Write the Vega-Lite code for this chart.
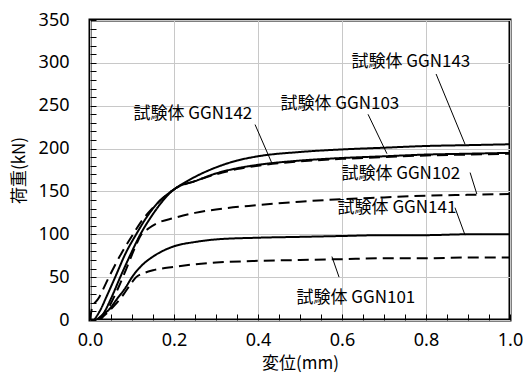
{
  "$schema": "https://vega.github.io/schema/vega-lite/v6.json",
  "width": 420,
  "height": 300,
  "autosize": {"type": "none"},
  "padding": {"left": 90, "top": 20, "right": 13, "bottom": 57},
  "background": "white",
  "config": {
    "view": {"stroke": "black", "strokeWidth": 3},
    "axis": {"labelColor": "black", "titleColor": "black", "tickColor": "black", "labelFlush": false}
  },
  "datasets": {
    "curves": [
      {"s": "GGN143", "x": 0.01, "y": 0}, {"s": "GGN143", "x": 0.025, "y": 12}, {"s": "GGN143", "x": 0.04, "y": 28}, {"s": "GGN143", "x": 0.06, "y": 50}, {"s": "GGN143", "x": 0.085, "y": 78}, {"s": "GGN143", "x": 0.11, "y": 100}, {"s": "GGN143", "x": 0.135, "y": 120}, {"s": "GGN143", "x": 0.16, "y": 136}, {"s": "GGN143", "x": 0.185, "y": 147}, {"s": "GGN143", "x": 0.205, "y": 154}, {"s": "GGN143", "x": 0.25, "y": 167}, {"s": "GGN143", "x": 0.3, "y": 178}, {"s": "GGN143", "x": 0.35, "y": 186}, {"s": "GGN143", "x": 0.4, "y": 191}, {"s": "GGN143", "x": 0.5, "y": 196}, {"s": "GGN143", "x": 0.6, "y": 199}, {"s": "GGN143", "x": 0.7, "y": 201}, {"s": "GGN143", "x": 0.8, "y": 203}, {"s": "GGN143", "x": 0.9, "y": 204}, {"s": "GGN143", "x": 1.0, "y": 205},
      {"s": "GGN142", "x": 0.02, "y": 0}, {"s": "GGN142", "x": 0.035, "y": 10}, {"s": "GGN142", "x": 0.05, "y": 25}, {"s": "GGN142", "x": 0.072, "y": 50}, {"s": "GGN142", "x": 0.097, "y": 77}, {"s": "GGN142", "x": 0.12, "y": 100}, {"s": "GGN142", "x": 0.145, "y": 120}, {"s": "GGN142", "x": 0.17, "y": 137}, {"s": "GGN142", "x": 0.19, "y": 148}, {"s": "GGN142", "x": 0.205, "y": 154}, {"s": "GGN142", "x": 0.25, "y": 162}, {"s": "GGN142", "x": 0.3, "y": 171}, {"s": "GGN142", "x": 0.35, "y": 177}, {"s": "GGN142", "x": 0.4, "y": 181}, {"s": "GGN142", "x": 0.5, "y": 186}, {"s": "GGN142", "x": 0.6, "y": 189}, {"s": "GGN142", "x": 0.7, "y": 191}, {"s": "GGN142", "x": 0.8, "y": 193}, {"s": "GGN142", "x": 0.9, "y": 194}, {"s": "GGN142", "x": 1.0, "y": 195},
      {"s": "GGN103", "x": 0.0, "y": 0}, {"s": "GGN103", "x": 0.005, "y": 14}, {"s": "GGN103", "x": 0.02, "y": 25}, {"s": "GGN103", "x": 0.045, "y": 50}, {"s": "GGN103", "x": 0.075, "y": 78}, {"s": "GGN103", "x": 0.1, "y": 98}, {"s": "GGN103", "x": 0.125, "y": 117}, {"s": "GGN103", "x": 0.15, "y": 131}, {"s": "GGN103", "x": 0.18, "y": 145}, {"s": "GGN103", "x": 0.205, "y": 154}, {"s": "GGN103", "x": 0.25, "y": 162}, {"s": "GGN103", "x": 0.3, "y": 170}, {"s": "GGN103", "x": 0.35, "y": 176}, {"s": "GGN103", "x": 0.4, "y": 180}, {"s": "GGN103", "x": 0.5, "y": 185}, {"s": "GGN103", "x": 0.6, "y": 188}, {"s": "GGN103", "x": 0.7, "y": 190}, {"s": "GGN103", "x": 0.8, "y": 192}, {"s": "GGN103", "x": 0.9, "y": 193}, {"s": "GGN103", "x": 1.0, "y": 194},
      {"s": "GGN102", "x": 0.025, "y": 0}, {"s": "GGN102", "x": 0.045, "y": 15}, {"s": "GGN102", "x": 0.065, "y": 35}, {"s": "GGN102", "x": 0.085, "y": 58}, {"s": "GGN102", "x": 0.105, "y": 82}, {"s": "GGN102", "x": 0.12, "y": 98}, {"s": "GGN102", "x": 0.14, "y": 107}, {"s": "GGN102", "x": 0.16, "y": 113}, {"s": "GGN102", "x": 0.2, "y": 119}, {"s": "GGN102", "x": 0.25, "y": 125}, {"s": "GGN102", "x": 0.3, "y": 129}, {"s": "GGN102", "x": 0.4, "y": 134}, {"s": "GGN102", "x": 0.5, "y": 138}, {"s": "GGN102", "x": 0.6, "y": 141}, {"s": "GGN102", "x": 0.7, "y": 143}, {"s": "GGN102", "x": 0.8, "y": 145}, {"s": "GGN102", "x": 0.9, "y": 146}, {"s": "GGN102", "x": 1.0, "y": 147},
      {"s": "GGN141", "x": 0.015, "y": 0}, {"s": "GGN141", "x": 0.03, "y": 6}, {"s": "GGN141", "x": 0.045, "y": 12}, {"s": "GGN141", "x": 0.065, "y": 25}, {"s": "GGN141", "x": 0.085, "y": 38}, {"s": "GGN141", "x": 0.1, "y": 50}, {"s": "GGN141", "x": 0.12, "y": 62}, {"s": "GGN141", "x": 0.15, "y": 74}, {"s": "GGN141", "x": 0.175, "y": 81}, {"s": "GGN141", "x": 0.2, "y": 86}, {"s": "GGN141", "x": 0.25, "y": 91}, {"s": "GGN141", "x": 0.3, "y": 94}, {"s": "GGN141", "x": 0.4, "y": 96}, {"s": "GGN141", "x": 0.5, "y": 97}, {"s": "GGN141", "x": 0.6, "y": 98}, {"s": "GGN141", "x": 0.7, "y": 99}, {"s": "GGN141", "x": 0.8, "y": 99}, {"s": "GGN141", "x": 0.9, "y": 100}, {"s": "GGN141", "x": 1.0, "y": 100},
      {"s": "GGN101", "x": 0.02, "y": 0}, {"s": "GGN101", "x": 0.04, "y": 8}, {"s": "GGN101", "x": 0.06, "y": 18}, {"s": "GGN101", "x": 0.08, "y": 30}, {"s": "GGN101", "x": 0.1, "y": 44}, {"s": "GGN101", "x": 0.11, "y": 50}, {"s": "GGN101", "x": 0.13, "y": 55}, {"s": "GGN101", "x": 0.15, "y": 58}, {"s": "GGN101", "x": 0.2, "y": 62}, {"s": "GGN101", "x": 0.25, "y": 65}, {"s": "GGN101", "x": 0.3, "y": 67}, {"s": "GGN101", "x": 0.4, "y": 69}, {"s": "GGN101", "x": 0.5, "y": 70}, {"s": "GGN101", "x": 0.6, "y": 71}, {"s": "GGN101", "x": 0.7, "y": 72}, {"s": "GGN101", "x": 0.8, "y": 72}, {"s": "GGN101", "x": 0.9, "y": 73}, {"s": "GGN101", "x": 1.0, "y": 73}
    ],
    "labels": [
      {"label": "試験体 GGN143", "x": 0.764, "y": 301},
      {"label": "試験体 GGN103", "x": 0.595, "y": 252},
      {"label": "試験体 GGN142", "x": 0.245, "y": 240},
      {"label": "試験体 GGN102", "x": 0.74, "y": 170},
      {"label": "試験体 GGN141", "x": 0.731, "y": 131},
      {"label": "試験体 GGN101", "x": 0.633, "y": 26}
    ],
    "leaders": [
      {"x": 0.824, "y": 287, "x2": 0.893, "y2": 205},
      {"x": 0.662, "y": 240, "x2": 0.707, "y2": 194},
      {"x": 0.393, "y": 228, "x2": 0.433, "y2": 183},
      {"x": 0.905, "y": 172, "x2": 0.921, "y2": 147},
      {"x": 0.869, "y": 131, "x2": 0.893, "y2": 99},
      {"x": 0.576, "y": 74, "x2": 0.593, "y2": 50}
    ]
  },
  "resolve": {"axis": {"x": "independent", "y": "independent"}},
  "layer": [
    {
      "data": {"name": "curves"},
      "mark": {"type": "line", "interpolate": "monotone", "color": "black", "clip": true},
      "encoding": {
        "x": {"field": "x", "type": "quantitative", "scale": {"domain": [0, 1], "nice": false},
          "axis": {"orient": "bottom", "values": [0, 0.2, 0.4, 0.6, 0.8, 1.0], "format": ".1f", "grid": true, "gridColor": "#c8c8c8", "gridWidth": 1, "ticks": false, "domain": false, "labelFont": "Noto Sans", "labelFontSize": 18, "labelPadding": 11, "title": "変位(mm)", "titleFont": "Noto Sans CJK JP", "titleFontSize": 17, "titleFontWeight": "normal", "titlePadding": 6}},
        "y": {"field": "y", "type": "quantitative", "scale": {"domain": [0, 350], "nice": false},
          "axis": {"orient": "left", "values": [0, 50, 100, 150, 200, 250, 300, 350], "grid": true, "gridColor": "#c8c8c8", "gridWidth": 1, "ticks": false, "domain": false, "labelFont": "Noto Sans", "labelFontSize": 18, "labelPadding": 21, "title": "荷重(kN)", "titleFont": "Noto Sans CJK JP", "titleFontSize": 17, "titleFontWeight": "normal", "titlePadding": 10}},
        "detail": {"field": "s"},
        "strokeDash": {"field": "s", "type": "nominal", "legend": null,
          "scale": {"domain": ["GGN141", "GGN142", "GGN143", "GGN101", "GGN102", "GGN103"], "range": [[1, 0], [1, 0], [1, 0], [11, 6], [11, 6], [11, 6]]}},
        "strokeWidth": {"field": "s", "type": "nominal", "legend": null,
          "scale": {"domain": ["GGN141", "GGN142", "GGN143", "GGN101", "GGN102", "GGN103"], "range": [2, 2, 2.2, 2.8, 2.8, 2.8]}}
      }
    },
    {
      "data": {"name": "labels"},
      "mark": {"type": "text", "font": "Noto Sans CJK JP", "fontSize": 17, "color": "black", "align": "center", "baseline": "middle"},
      "encoding": {
        "x": {"field": "x", "type": "quantitative",
          "axis": {"orient": "bottom", "values": [0, 0.05, 0.1, 0.15, 0.2, 0.25, 0.3, 0.35, 0.4, 0.45, 0.5, 0.55, 0.6, 0.65, 0.7, 0.75, 0.8, 0.85, 0.9, 0.95, 1.0], "labels": false, "grid": false, "domain": false, "ticks": true, "tickSize": -6, "tickWidth": 1, "title": null}},
        "y": {"field": "y", "type": "quantitative",
          "axis": {"orient": "left", "values": [0, 10, 20, 30, 40, 50, 60, 70, 80, 90, 100, 110, 120, 130, 140, 150, 160, 170, 180, 190, 200, 210, 220, 230, 240, 250, 260, 270, 280, 290, 300, 310, 320, 330, 340, 350], "labels": false, "grid": false, "domain": false, "ticks": true, "tickSize": -6, "tickWidth": 1, "title": null}},
        "text": {"field": "label"}
      }
    },
    {
      "data": {"name": "leaders"},
      "mark": {"type": "rule", "color": "black", "strokeWidth": 1},
      "encoding": {
        "x": {"field": "x", "type": "quantitative", "axis": null},
        "y": {"field": "y", "type": "quantitative", "axis": null},
        "x2": {"field": "x2"},
        "y2": {"field": "y2"}
      }
    }
  ]
}
